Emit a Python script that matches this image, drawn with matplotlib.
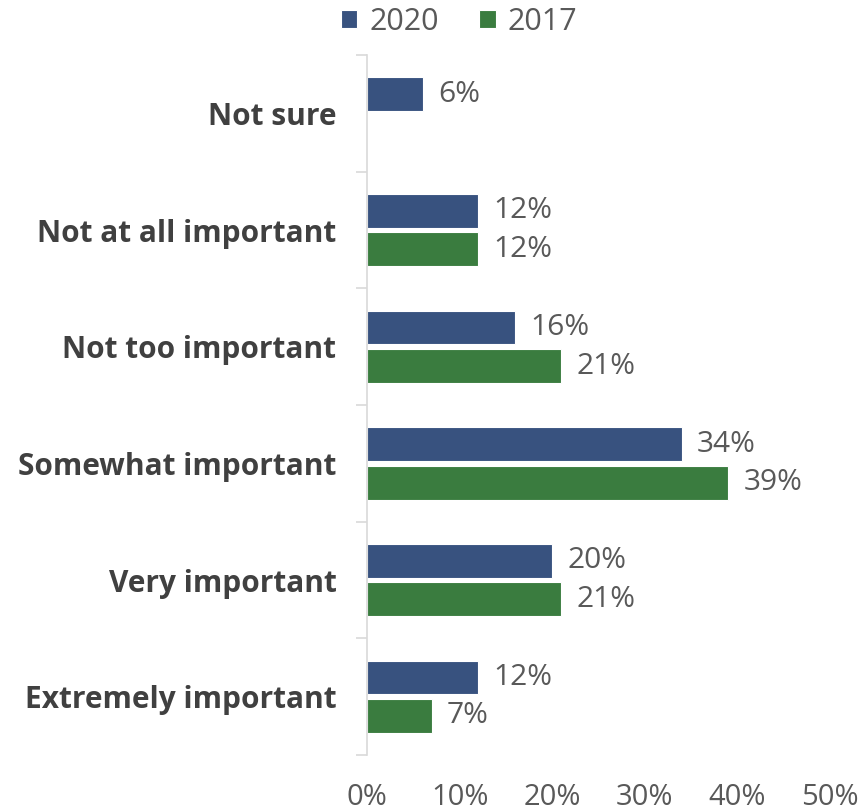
import numpy as np
import matplotlib
matplotlib.use("Agg")
import matplotlib.pyplot as plt
from matplotlib.ticker import FixedLocator, PercentFormatter

# survey data (percent), listed bottom to top
categories = ["Extremely important", "Very important", "Somewhat important",
              "Not too important", "Not at all important", "Not sure"]
vals_2020 = [12, 20, 34, 16, 12, 6]
vals_2017 = [7, 21, 39, 21, 12, np.nan]
series_names = ["2020", "2017"]

blue = "#38527f"
green = "#3a7c3f"
text_grey = "#595959"
label_dark = "#404040"

plt.rcParams['font.family'] = ['Open Sans', 'DejaVu Sans']

fig = plt.figure(figsize=(8.66, 8.11), dpi=100)
ax = fig.add_axes([0.4238, 0.069, 0.5346, 0.863])

y = np.arange(len(categories))
h = 0.29
off = 0.165

b1 = ax.barh(y + off, vals_2020, height=h, color=blue, edgecolor="white", linewidth=0.8, label=series_names[0])
b2 = ax.barh(y - off, vals_2017, height=h, color=green, edgecolor="white", linewidth=0.8, label=series_names[1])

for bars, vals in ((b1, vals_2020), (b2, vals_2017)):
    for rect, v in zip(bars, vals):
        if np.isnan(v):
            continue
        ax.annotate("{:.0f}%".format(v), xy=(v, rect.get_y() + rect.get_height() / 2),
                    xytext=(11, 0), textcoords="offset points", va="center", ha="left",
                    fontsize=21.5, color=text_grey)

ax.set_xlim(0, 50)
ax.set_ylim(-0.5, len(categories) - 0.5)
ax.xaxis.set_major_locator(FixedLocator([0, 10, 20, 30, 40, 50]))
ax.xaxis.set_major_formatter(PercentFormatter(decimals=0))
ax.tick_params(axis="x", length=0, labelsize=21, labelcolor=text_grey, pad=20)

ax.set_yticks(y)
ax.set_yticklabels(categories, fontsize=21.5, fontweight="bold", color=label_dark)
ax.tick_params(axis="y", which="major", length=0, pad=22)
ax.set_yticks(np.arange(-0.5, len(categories), 1.0), minor=True)
ax.tick_params(axis="y", which="minor", length=8, color="#d9d9d9", width=1.2)

for s in ("top", "right", "bottom"):
    ax.spines[s].set_visible(False)
ax.spines["left"].set_color("#d9d9d9")
ax.spines["left"].set_linewidth(1.2)

fig.legend(handles=[b1, b2], loc="center", bbox_to_anchor=(0.53, 0.973), ncol=2,
           frameon=False, fontsize=22, labelcolor=text_grey, handlelength=0.55,
           handleheight=0.55, handletextpad=0.4, columnspacing=1.3)

fig.savefig("out.png", dpi=100)
